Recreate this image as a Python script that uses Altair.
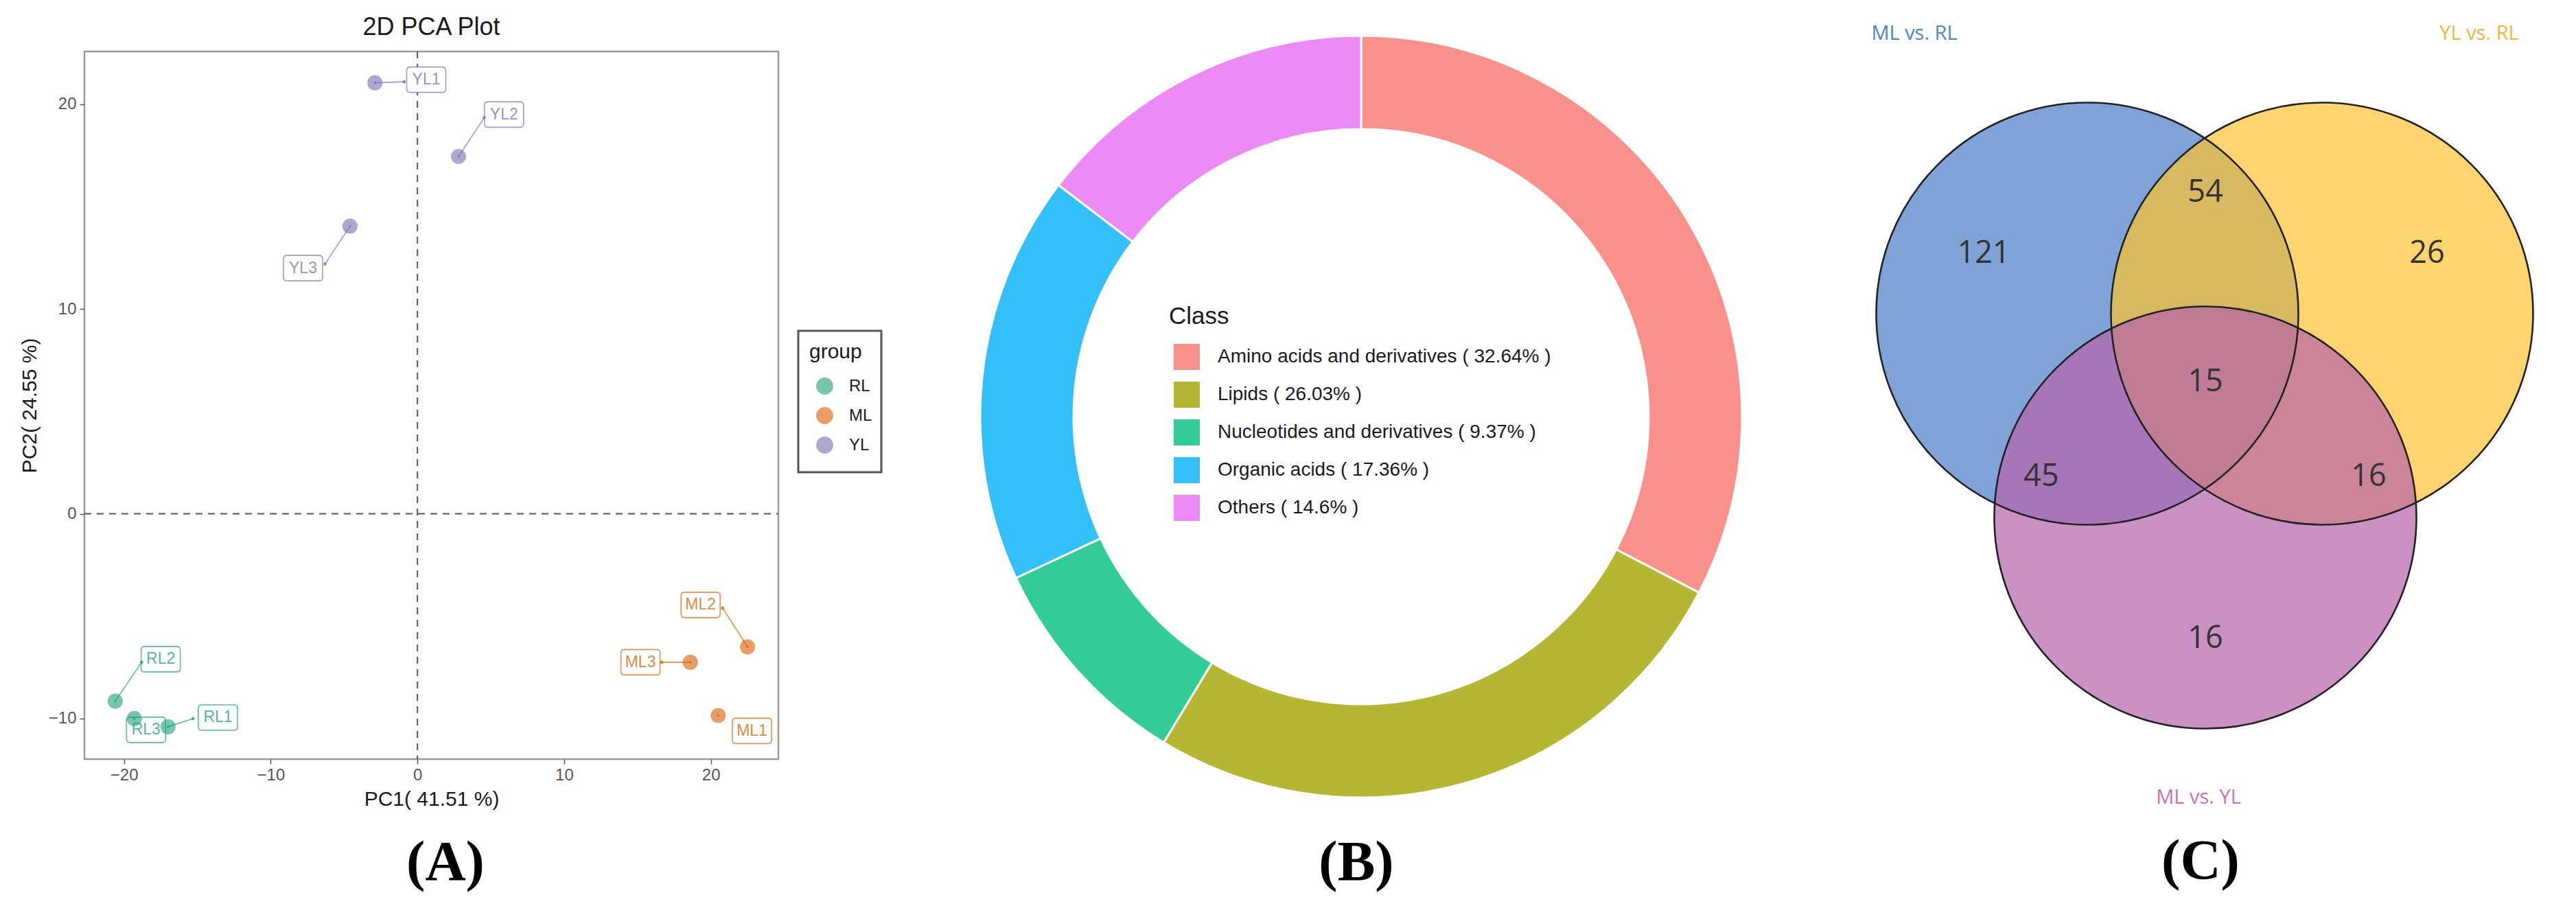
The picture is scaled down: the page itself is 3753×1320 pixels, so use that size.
import altair as alt
import pandas as pd

# ---------------- data ----------------
# (A) PCA scores
samples = ["RL1", "RL2", "RL3", "ML1", "ML2", "ML3", "YL1", "YL2", "YL3"]
groups = ["RL", "RL", "RL", "ML", "ML", "ML", "YL", "YL", "YL"]
pc1 = [-17.0, -20.6, -19.3, 20.5, 22.5, 18.6, -2.9, 2.8, -4.6]
pc2 = [-10.4, -9.15, -10.0, -9.85, -6.5, -7.25, 21.05, 17.45, 14.05]
# repelled label positions and where their leader segment ends
label_x = [-13.6, -17.5, -18.5, 22.8, 19.3, 15.2, 0.6, 5.9, -7.8]
label_y = [-9.95, -7.1, -10.55, -10.6, -4.45, -7.25, 21.2, 19.5, 12.0]
seg_x = [-15.3, -18.8, None, None, 20.8, 16.65, -0.9, 4.55, -6.3]
seg_y = [-10.0, -7.25, None, None, -4.6, -7.25, 21.1, 19.35, 12.2]
group_order = ["RL", "ML", "YL"]
group_colors = ["#1b9e77", "#d95f02", "#7570b3"]
x_ticks = [-20, -10, 0, 10, 20]
y_ticks = [-10, 0, 10, 20]

# (B) metabolite classes
classes = ["Amino acids and derivatives", "Lipids", "Nucleotides and derivatives",
           "Organic acids", "Others"]
class_pct = [32.64, 26.03, 9.37, 17.36, 14.6]
class_colors = ["#F9918A", "#B5B733", "#33CC97", "#33C0F8", "#EC89F5"]

# (C) Venn of differential metabolites
set_names = ["ML vs. RL", "YL vs. RL", "ML vs. YL"]
set_fill = ["#487CC4", "#FCC230", "#B662AB"]
set_text_color = ["#4A86C8", "#F5B335", "#C471B6"]
region_keys = ["A", "AB", "B", "ABC", "AC", "BC", "C"]
region_counts = [121, 54, 26, 15, 45, 16, 16]

# ---------------- layout (canvas pixels) ----------------
W, H = 3737, 1304
SANS = "Liberation Sans"
A_L, A_R, A_T, A_B = 115, 1126, 67, 1098
DONUT_X, DONUT_Y, R_OUT, R_IN = 1975, 599, 555, 419
circle_pos = {"ML vs. RL": (3033, 449), "YL vs. RL": (3375, 449), "ML vs. YL": (3205, 746)}
CIRCLE_SIZE = 3.14159 * 347 ** 2
region_pos = {"A": (2882, 361), "AB": (3205, 272), "B": (3528, 361), "ABC": (3205, 548),
              "AC": (2966, 686), "BC": (3443, 686), "C": (3205, 922)}
set_label_pos = {"ML vs. RL": (2781, 41), "YL vs. RL": (3604, 41), "ML vs. YL": (3195, 1154)}
tags = [("(A)", 641, 1249), ("(B)", 1968, 1249), ("(C)", 3198, 1247)]

BOX = ("M-1.27,-1L1.27,-1Q1.54,-1 1.54,-0.73L1.54,0.73Q1.54,1 1.27,1"
       "L-1.27,1Q-1.54,1 -1.54,0.73L-1.54,-0.73Q-1.54,-1 -1.27,-1Z")

one_row = pd.DataFrame({"k": [0]})

# ---------------- panel A ----------------
pca_df = pd.DataFrame({"sample": samples, "group": groups, "pc1": pc1, "pc2": pc2,
                       "lx": label_x, "ly": label_y})
seg_df = pd.DataFrame([
    {"group": g, "pc1": a, "pc2": b, "sx": sx, "sy": sy}
    for g, a, b, sx, sy in zip(groups, pc1, pc2, seg_x, seg_y) if sx is not None
])


def xs():
    return alt.Scale(domain=[-22.7, 24.6], range=[A_L, A_R], nice=False, zero=False)


def ys():
    return alt.Scale(domain=[-11.98, 22.58], range=[A_B, A_T], nice=False, zero=False)


def gscale():
    return alt.Scale(domain=group_order, range=group_colors)


axis_style = dict(grid=False, domain=False, tickSize=7, tickColor="#555555", tickWidth=1.5,
                  labelFontSize=24, labelColor="#555555", labelFont=SANS, titleFont=SANS,
                  titleFontSize=30, titleFontWeight="normal", titleColor="#1a1a1a", zindex=2)
x_axis = alt.Axis(values=x_ticks, orient="bottom", offset=A_B - H, labelPadding=4,
                  title="PC1( 41.51 %)", titlePadding=8, **axis_style)
y_axis = alt.Axis(values=y_ticks, orient="left", offset=-A_L, labelPadding=5,
                  title="PC2( 24.55 %)", titlePadding=12, **axis_style)

frame = alt.Chart(one_row).mark_rect(
    fill="white", stroke="#9a9a9a", strokeWidth=2.5
).encode(x=alt.value(A_L), x2=alt.value(A_R), y=alt.value(A_T), y2=alt.value(A_B))

vline = alt.Chart(one_row).mark_rule(
    color="#555555", strokeWidth=2, strokeDash=[10, 8]
).encode(x=alt.X("k:Q", scale=xs(), axis=None), y=alt.value(A_T), y2=alt.value(A_B))

hline = alt.Chart(one_row).mark_rule(
    color="#555555", strokeWidth=2, strokeDash=[10, 8]
).encode(y=alt.Y("k:Q", scale=ys(), axis=None), x=alt.value(A_L), x2=alt.value(A_R))

boxes = alt.Chart(pca_df).mark_point(
    shape=BOX, size=1369, filled=True, fill="white", strokeWidth=1.6, strokeOpacity=0.7,
    opacity=1
).encode(
    x=alt.X("lx:Q", scale=xs(), axis=None),
    y=alt.Y("ly:Q", scale=ys(), axis=None),
    stroke=alt.Stroke("group:N", scale=gscale(), legend=None),
)

label_text = alt.Chart(pca_df).mark_text(
    fontSize=23, font=SANS, opacity=0.75
).encode(
    x=alt.X("lx:Q", scale=xs(), axis=None),
    y=alt.Y("ly:Q", scale=ys(), axis=None),
    text="sample:N",
    fill=alt.Fill("group:N", scale=gscale(), legend=None),
)

segments = alt.Chart(seg_df).mark_rule(strokeWidth=1.6, opacity=0.7).encode(
    x=alt.X("pc1:Q", scale=xs(), axis=None),
    y=alt.Y("pc2:Q", scale=ys(), axis=None),
    x2="sx:Q", y2="sy:Q",
    stroke=alt.Stroke("group:N", scale=gscale(), legend=None),
)

seg_heads = alt.Chart(seg_df).mark_circle(size=22, opacity=0.8).encode(
    x=alt.X("sx:Q", scale=xs(), axis=None),
    y=alt.Y("sy:Q", scale=ys(), axis=None),
    fill=alt.Fill("group:N", scale=gscale(), legend=None),
)

points = alt.Chart(pca_df).mark_circle(size=490, opacity=0.6).encode(
    x=alt.X("pc1:Q", scale=xs(), axis=x_axis),
    y=alt.Y("pc2:Q", scale=ys(), axis=y_axis),
    color=alt.Color("group:N", scale=gscale(), legend=alt.Legend(
        title="group", orient="none", legendX=1171, legendY=490, padding=0,
        titleFont=SANS, titleFontSize=30, titleFontWeight="normal", titleColor="#1a1a1a",
        titlePadding=22, labelFont=SANS, labelFontSize=24, labelColor="#1a1a1a",
        symbolType="circle", symbolSize=616, symbolOffset=10, labelOffset=23,
        rowPadding=18, symbolStrokeWidth=0)),
)

dots = alt.Chart(pca_df).mark_circle(size=10, opacity=0.8).encode(
    x=alt.X("pc1:Q", scale=xs(), axis=None),
    y=alt.Y("pc2:Q", scale=ys(), axis=None),
    fill=alt.Fill("group:N", scale=gscale(), legend=None),
)

legend_box = alt.Chart(one_row).mark_rect(
    fill="white", stroke="#555555", strokeWidth=3
).encode(x=alt.value(1155), x2=alt.value(1276), y=alt.value(474), y2=alt.value(680))

pca_title = alt.Chart(pd.DataFrame({"t": ["2D PCA Plot"]})).mark_text(
    fontSize=36, font=SANS, color="#1a1a1a", baseline="middle"
).encode(text="t:N", x=alt.value((A_L + A_R) / 2), y=alt.value(32))

pca_layers = [frame, vline, hline, boxes, label_text, segments, seg_heads,
              points, dots, legend_box, pca_title]

# ---------------- panel B ----------------
donut_df = pd.DataFrame({
    "cls": classes, "pct": class_pct, "order": list(range(len(classes))),
    "label": [f"{c} ( {p}% )" for c, p in zip(classes, class_pct)],
})
donut = alt.Chart(donut_df).mark_arc(
    radius=R_OUT, radius2=R_IN, stroke="white", strokeWidth=3
).encode(
    theta=alt.Theta("pct:Q", stack=True),
    order=alt.Order("order:Q"),
    color=alt.Color("label:N", sort=list(donut_df["label"]),
                    scale=alt.Scale(domain=list(donut_df["label"]), range=class_colors),
                    legend=alt.Legend(
                        title="Class", orient="none", legendX=1695, legendY=436, padding=0,
                        titleFont=SANS, titleFontSize=35, titleFontWeight="normal",
                        titleColor="#1a1a1a", titlePadding=22, labelFont=SANS,
                        labelFontSize=28, labelColor="#1a1a1a", labelLimit=0,
                        symbolType="square", symbolSize=1444, symbolOffset=7,
                        labelOffset=26, rowPadding=17, symbolStrokeWidth=0)),
    x=alt.value(DONUT_X),
    y=alt.value(DONUT_Y),
)

# ---------------- panel C ----------------
circle_layers = []
for name, col in zip(set_names, set_fill):
    cx, cy = circle_pos[name]
    circle_layers.append(
        alt.Chart(pd.DataFrame({"set": [name]})).mark_point(
            shape="circle", filled=True, size=CIRCLE_SIZE, color=col, opacity=0.7,
            strokeWidth=0
        ).encode(x=alt.value(cx), y=alt.value(cy))
    )
outline_layers = []
for name in set_names:
    cx, cy = circle_pos[name]
    outline_layers.append(
        alt.Chart(pd.DataFrame({"set": [name]})).mark_point(
            shape="circle", filled=False, size=CIRCLE_SIZE, color="#222222",
            strokeWidth=2.6, opacity=1
        ).encode(x=alt.value(cx), y=alt.value(cy))
    )

count_layers = []
for key, n in zip(region_keys, region_counts):
    px, py = region_pos[key]
    count_layers.append(
        alt.Chart(pd.DataFrame({"n": [n]})).mark_text(
            font="Open Sans", fontSize=45, color="#333333", baseline="middle"
        ).encode(text="n:Q", x=alt.value(px), y=alt.value(py))
    )

set_label_layers = []
for name, col in zip(set_names, set_text_color):
    px, py = set_label_pos[name]
    set_label_layers.append(
        alt.Chart(pd.DataFrame({"s": [name]})).mark_text(
            font="Open Sans", fontSize=29, color=col, baseline="middle"
        ).encode(text="s:N", x=alt.value(px), y=alt.value(py))
    )

# ---------------- panel tags ----------------
tag_layers = [
    alt.Chart(pd.DataFrame({"t": [t]})).mark_text(
        font="Liberation Serif", fontSize=82, fontWeight="bold", color="black",
        baseline="middle"
    ).encode(text="t:N", x=alt.value(tx), y=alt.value(ty))
    for t, tx, ty in tags
]

chart = alt.layer(
    *pca_layers, donut, *circle_layers, *outline_layers, *count_layers,
    *set_label_layers, *tag_layers
).resolve_scale(
    x="independent", y="independent", color="independent",
    fill="independent", stroke="independent"
).properties(
    width=W, height=H, padding=0,
    autosize=alt.AutoSizeParams(type="none"),
    background="white",
).configure_view(stroke=None)

chart.save("out.html", embed_options={"renderer": "svg", "actions": False})
